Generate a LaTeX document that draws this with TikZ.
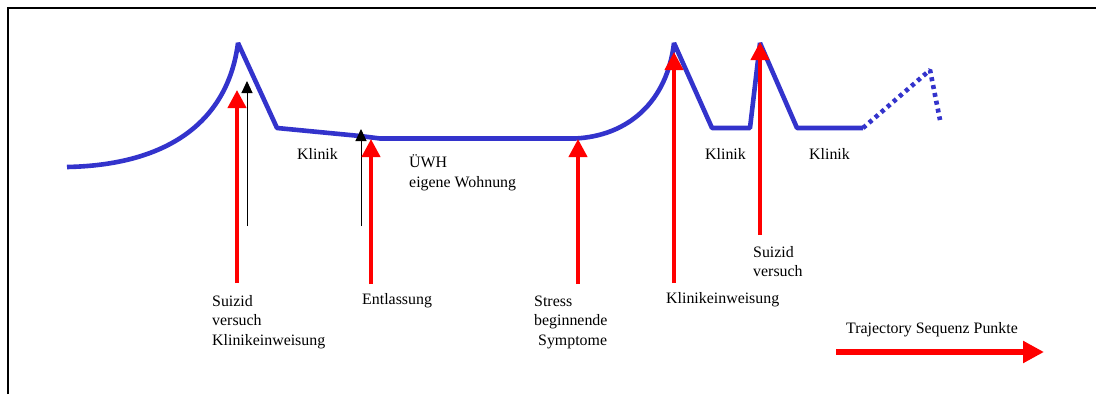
\documentclass[tikz,border=0pt]{standalone}
\usepackage{fontspec}
\setmainfont{Liberation Serif}
\usetikzlibrary{arrows.meta}
\definecolor{traj}{RGB}{51,51,204}
\begin{document}
\begin{tikzpicture}[x=1pt,y=-1pt,
  lbl/.style={font=\fontsize{15.9}{19.5}\selectfont, inner sep=0pt, anchor=base west},
  curve/.style={traj, line width=4.6pt, line join=bevel},
  redarr/.style={red, line width=4pt, -{Triangle[length=18pt,width=18pt]}},
  bigarr/.style={red, line width=6pt, -{Triangle[length=21pt,width=21pt]}},
  blkarr/.style={black, line width=1pt, -{Triangle[length=12pt,width=11pt]}},
  frame/.style={black, line width=2pt}]
\useasboundingbox (0,0) rectangle (1096,394);
\fill[white] (0,0) rectangle (1096,394);
% frame (left and top)
\draw[frame] (8,394) -- (8,8) -- (1096,8);
% trajectory
\draw[curve] (67,167) .. controls (170,165) and (228,120) .. (238,43)
  -- (277,128) -- (360,136) -- (380,138.5) -- (575,138.5)
  .. controls (628,136) and (667,102) .. (674,43)
  -- (712,128) -- (750,128) -- (760,43) -- (797,128) -- (863,128);
\draw[curve, dash pattern=on 4pt off 4pt] (863,128) -- (930,70) -- (940,120);
% coordinates for arrows
\coordinate (r1b) at (237,283); \coordinate (r1t) at (237,90);
\coordinate (r2b) at (371,284); \coordinate (r2t) at (371,139);
\coordinate (r3b) at (578,284); \coordinate (r3t) at (578,139);
\coordinate (r4b) at (674,283); \coordinate (r4t) at (674,52);
\coordinate (r5b) at (760,235); \coordinate (r5t) at (760,42);
\coordinate (k1b) at (247,226); \coordinate (k1t) at (247,81);
\coordinate (k2b) at (361,226); \coordinate (k2t) at (361,129);
\coordinate (tb) at (836,352); \coordinate (tt) at (1044,352);
% black arrows
\draw[blkarr] (k1b) -- (k1t);
\draw[blkarr] (k2b) -- (k2t);
% red arrows
\draw[redarr] (r1b) -- (r1t);
\draw[redarr] (r2b) -- (r2t);
\draw[redarr] (r3b) -- (r3t);
\draw[redarr] (r4b) -- (r4t);
\draw[redarr] (r5b) -- (r5t);
\draw[bigarr] (tb) -- (tt);
% labels
\node[lbl] (kl1) at (297,159) {Klinik};
\node[lbl] (uwh) at (409,167) {ÜWH};
\node[lbl] (eig) at (409,187) {eigene Wohnung};
\node[lbl] (kl2) at (705,159) {Klinik};
\node[lbl] (kl3) at (809,159) {Klinik};
\node[lbl] (s1a) at (212,306) {Suizid};
\node[lbl] (s1b) at (212,325) {versuch};
\node[lbl] (s1c) at (212,345) {Klinikeinweisung};
\node[lbl] (ent) at (362,304) {Entlassung};
\node[lbl] (st1) at (534,306) {Stress};
\node[lbl] (st2) at (534,325) {beginnende};
\node[lbl] (st3) at (538,345) {Symptome};
\node[lbl] (kle) at (666,303) {Klinikeinweisung};
\node[lbl] (s2a) at (753,257) {Suizid};
\node[lbl] (s2b) at (753,276) {versuch};
\node[lbl] (tsp) at (846,333) {Trajectory Sequenz Punkte};
\end{tikzpicture}
\end{document}
